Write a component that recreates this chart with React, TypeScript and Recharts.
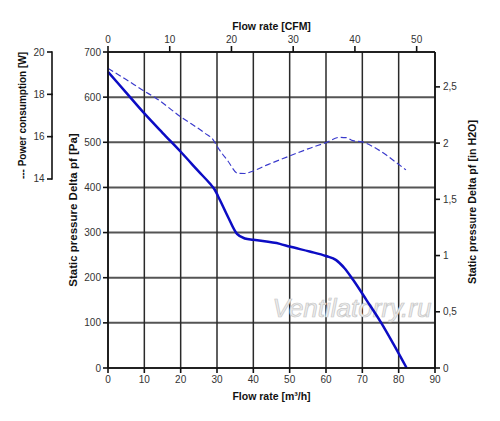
import { LineChart, Line, XAxis, YAxis, CartesianGrid, Label, Customized } from 'recharts';

// tick values
const flowTicks = [0, 10, 20, 30, 40, 50, 60, 70, 80, 90];
const pressureTicks = [0, 100, 200, 300, 400, 500, 600, 700];
const inchTicks = [0, 0.5, 1, 1.5, 2, 2.5];
const cfmTicks = [0, 10, 20, 30, 40, 50];
const powerTicks = [14, 16, 18, 20];

// static pressure [Pa] vs flow rate [m3/h]
const pressureCurve = [
  { q: 0, pa: 656 },
  { q: 5, pa: 610 },
  { q: 10, pa: 564 },
  { q: 15, pa: 521 },
  { q: 20, pa: 479 },
  { q: 25, pa: 435 },
  { q: 28.1, pa: 408 },
  { q: 29.3, pa: 396 },
  { q: 30.8, pa: 372 },
  { q: 33, pa: 335 },
  { q: 35.5, pa: 297 },
  { q: 37.7, pa: 287 },
  { q: 40, pa: 284 },
  { q: 47.3, pa: 275 },
  { q: 50, pa: 269 },
  { q: 55.5, pa: 258 },
  { q: 60, pa: 248 },
  { q: 62.8, pa: 239 },
  { q: 65.1, pa: 221 },
  { q: 67.4, pa: 196 },
  { q: 71.1, pa: 151 },
  { q: 75.2, pa: 100 },
  { q: 78.5, pa: 54 },
  { q: 82.2, pa: 0 },
];

// power consumption [W] vs flow rate [m3/h]
const powerCurve = [
  { q: 0, w: 19.23 },
  { q: 5, w: 18.7 },
  { q: 10, w: 18.15 },
  { q: 13, w: 17.84 },
  { q: 20, w: 16.94 },
  { q: 26.7, w: 16.16 },
  { q: 29, w: 15.84 },
  { q: 30, w: 15.55 },
  { q: 33, w: 14.85 },
  { q: 35.7, w: 14.27 },
  { q: 37.7, w: 14.26 },
  { q: 39, w: 14.32 },
  { q: 44, w: 14.68 },
  { q: 50, w: 15.09 },
  { q: 55, w: 15.42 },
  { q: 60, w: 15.72 },
  { q: 63.8, w: 15.97 },
  { q: 65.6, w: 15.95 },
  { q: 67.4, w: 15.81 },
  { q: 70, w: 15.75 },
  { q: 72.9, w: 15.53 },
  { q: 76.6, w: 15.13 },
  { q: 79, w: 14.82 },
  { q: 82, w: 14.43 },
];

const PA_PER_INCH = 249.09;
const M3H_PER_CFM = 1.699;

// same curve in CFM, only used so the top axis gets a series
const pressureCurveCfm = pressureCurve.map(p => ({ cfm: p.q / M3H_PER_CFM, pa: p.pa }));

const WIDTH = 500;
const HEIGHT = 421;
const MARGIN = { top: 20, right: 10, bottom: 13, left: 0 };
const TOP_AXIS_H = 32;
const BOTTOM_AXIS_H = 40;
const PLOT_H = HEIGHT - MARGIN.top - MARGIN.bottom - TOP_AXIS_H - BOTTOM_AXIS_H;
const W_MIN = 5.07;
const PX_PER_W = PLOT_H / (20 - W_MIN);

const FONT = '"Liberation Sans", Arial, sans-serif';
const INK = '#111';
const tickStyle = { fontSize: 10, fill: '#333', fontFamily: FONT };
const lineStyle = { stroke: INK, strokeWidth: 1.6 };
const titleStyle = { fontWeight: 700, fill: INK, fontFamily: FONT };

// eslint-disable-next-line @typescript-eslint/no-explicit-any
const PowerTick = (props: any) => {
  const { x, y, payload } = props;
  return (
    <g>
      <line x1={x - 5} x2={x} y1={y} y2={y} {...lineStyle} />
      {payload.value !== 20 && <line x1={x} x2={x} y1={y + 0.8} y2={y - 2 * PX_PER_W - 0.8} {...lineStyle} />}
      <text x={x - 7.5} y={y} dy="0.35em" textAnchor="end" {...tickStyle}>
        {payload.value}
      </text>
      {payload.value === 14 && (
        <text
          x={x - 29}
          y={y - 3 * PX_PER_W}
          transform={`rotate(-90, ${x - 29}, ${y - 3 * PX_PER_W})`}
          textAnchor="middle"
          dominantBaseline="central"
          fontSize={10}
          {...titleStyle}
        >
          --- Power consumption [W]
        </text>
      )}
    </g>
  );
};

// eslint-disable-next-line @typescript-eslint/no-explicit-any
const sideTitle = (text: string, dx: number, dy: number, size: number) => (props: any) => {
  const { x, y, height } = props.viewBox;
  const cx = x + dx;
  const cy = y + height / 2 + dy;
  return (
    <text
      x={cx}
      y={cy}
      transform={`rotate(-90, ${cx}, ${cy})`}
      textAnchor="middle"
      dominantBaseline="central"
      fontSize={size}
      {...titleStyle}
    >
      {text}
    </text>
  );
};

// eslint-disable-next-line @typescript-eslint/no-explicit-any
const flatTitle = (text: string, dy: number) => (props: any) => {
  const { x, y, width } = props.viewBox;
  return (
    <text x={x + width / 2} y={y + dy} textAnchor="middle" dominantBaseline="central" fontSize={10.5} {...titleStyle}>
      {text}
    </text>
  );
};

const Watermark = () => (
  <text
    x={352}
    y={317}
    textAnchor="middle"
    fontSize={26}
    fontStyle="italic"
    fontFamily={FONT}
    fill="#ededed"
    stroke="#c6c6c6"
    strokeWidth={0.7}
  >
    Ventilatorry.ru
  </text>
);

export default function App() {
  return (
    <div style={{ position: 'absolute', left: 0, top: 0, width: WIDTH, height: HEIGHT, fontFamily: FONT }}>
      <LineChart width={WIDTH} height={HEIGHT} margin={MARGIN}>
        <CartesianGrid xAxisId="m3" yAxisId="pa" vertical={false} stroke="#555" strokeWidth={2} />
        <CartesianGrid xAxisId="m3" yAxisId="pa" horizontal={false} stroke="#2a2a2a" strokeWidth={1.5} />
        <XAxis
          xAxisId="m3"
          dataKey="q"
          type="number"
          domain={[0, 90]}
          ticks={flowTicks}
          interval={0}
          height={BOTTOM_AXIS_H}
          tick={tickStyle}
          tickSize={5}
          tickMargin={3}
          axisLine={lineStyle}
          tickLine={lineStyle}
        >
          <Label content={flatTitle('Flow rate [m³/h]', 28)} />
        </XAxis>
        <XAxis
          xAxisId="cfm"
          dataKey="cfm"
          orientation="top"
          type="number"
          domain={[0, 90 / M3H_PER_CFM]}
          allowDataOverflow
          ticks={cfmTicks}
          interval={0}
          height={TOP_AXIS_H}
          tick={tickStyle}
          tickSize={6}
          tickMargin={3}
          axisLine={lineStyle}
          tickLine={lineStyle}
        >
          <Label content={flatTitle('Flow rate [CFM]', 6)} />
        </XAxis>
        <YAxis
          yAxisId="pa"
          type="number"
          domain={[0, 700]}
          ticks={pressureTicks}
          interval={0}
          width={56}
          tick={tickStyle}
          tickSize={5}
          tickMargin={2}
          axisLine={lineStyle}
          tickLine={lineStyle}
        >
          <Label content={sideTitle('Static pressure Delta pf [Pa]', 21, 0, 11.5)} />
        </YAxis>
        <YAxis
          yAxisId="w"
          type="number"
          domain={[W_MIN, 20]}
          allowDataOverflow
          ticks={powerTicks}
          interval={0}
          width={52}
          tick={<PowerTick />}
          tickSize={0}
          tickMargin={0}
          axisLine={false}
          tickLine={false}
        />
        <YAxis
          yAxisId="in"
          orientation="right"
          type="number"
          domain={[0, 700 / PA_PER_INCH]}
          allowDataOverflow
          ticks={inchTicks}
          interval={0}
          width={55}
          tick={tickStyle}
          tickSize={5}
          tickMargin={3}
          tickFormatter={(v: number) => String(v).replace('.', ',')}
          axisLine={lineStyle}
          tickLine={lineStyle}
        >
          <Label content={sideTitle('Static pressure Delta pf [in H2O]', 37, -8, 10.7)} />
        </YAxis>
        <Customized component={<Watermark />} />
        <Line
          xAxisId="cfm"
          yAxisId="pa"
          data={pressureCurveCfm}
          dataKey="pa"
          type="monotone"
          stroke="none"
          dot={false}
          activeDot={false}
          legendType="none"
          isAnimationActive={false}
        />
        <Line
          xAxisId="m3"
          yAxisId="w"
          data={powerCurve}
          dataKey="w"
          type="monotone"
          stroke="#3a3acc"
          strokeWidth={1.2}
          strokeDasharray="6 3"
          dot={false}
          isAnimationActive={false}
        />
        <Line
          xAxisId="m3"
          yAxisId="pa"
          data={pressureCurve}
          dataKey="pa"
          type="monotone"
          stroke="#0c0cc4"
          strokeWidth={2.5}
          dot={false}
          isAnimationActive={false}
        />
      </LineChart>
    </div>
  );
}
